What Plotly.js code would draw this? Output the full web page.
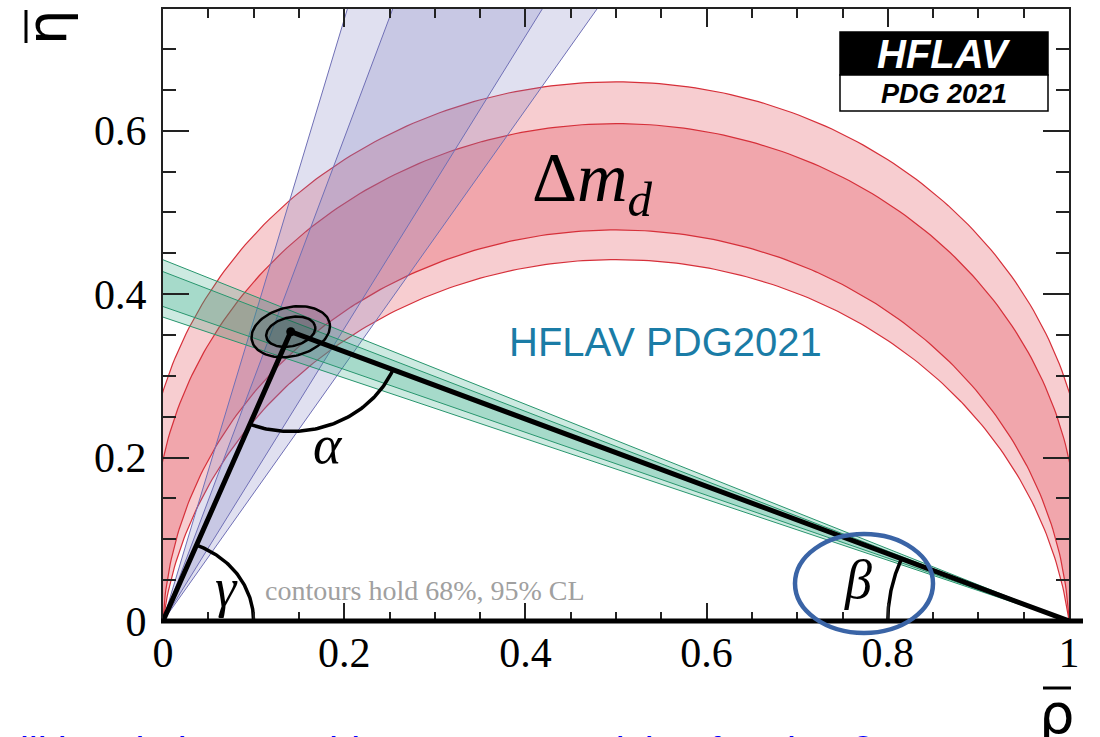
<!DOCTYPE html>
<html>
<head>
<meta charset="utf-8">
<script src="https://cdn.plot.ly/plotly-3.0.1.min.js"></script>
<style>html,body{margin:0;padding:0;background:#fff;overflow:hidden}#chart{width:1100px;height:737px}</style>
</head>
<body>
<div id="chart"></div>
<script>
// ---- data ----
const apexRho = 0.141;                       // rho-bar of the triangle apex
const apexEta = 0.354;                       // eta-bar of the triangle apex
const alphaBoundsDeg = [74.3, 78.8, 92.5, 97.0];   // 95% lo, 68% lo, 68% hi, 95% hi
const gammaBoundsDeg = [57.4, 60.8, 71.3, 74.8];
const betaBoundsDeg  = [20.4, 21.05, 23.15, 23.85];
const contour95 = [0.044, 0.030];            // semi-axes of the 95% CL ellipse
const contour68 = [0.0276, 0.0177];          // semi-axes of the 68% CL ellipse
const xTickVals = [0, 0.2, 0.4, 0.6, 0.8, 1];
const xTickText = ['0', '0.2', '0.4', '0.6', '0.8', '1'];
const yTickVals = [0, 0.2, 0.4, 0.6];
const yTickText = ['0', '0.2', '0.4', '0.6'];
const angleArcRadii = {gamma: 0.10, alpha: 0.122, beta: 0.20};

// ---- geometry helpers ----
const D = Math.PI / 180;
function alphaArc(aDeg, reverse) {
  // locus of points seeing (0,0)-(1,0) under angle alpha (circle through both)
  const a = aDeg * D, d = 0.5 / Math.tan(a), R = 0.5 / Math.abs(Math.sin(a));
  const t0 = Math.atan2(-d, 0.5), t1 = Math.PI - t0;
  const xs = [], ys = [];
  const N = 240;
  for (let i = 0; i <= N; i++) {
    const t = t0 + (t1 - t0) * i / N;
    xs.push(0.5 + R * Math.cos(t)); ys.push(d + R * Math.sin(t));
  }
  if (reverse) { xs.reverse(); ys.reverse(); }
  return [xs, ys];
}
function wedge(ox, oy, dirSign, a1, a2) {
  const L = 1.4;
  return [[ox, ox + dirSign * L * Math.cos(a1 * D), ox + dirSign * L * Math.cos(a2 * D), ox],
          [oy, oy + L * Math.sin(a1 * D), oy + L * Math.sin(a2 * D), oy]];
}
const PX = 906, PY = 817;   // pixels per unit on x and y
function ellipse(cx, cy, ab, tiltDeg) {
  const xs = [], ys = [], th = tiltDeg * D;
  const apx = ab[0] * PX, bpx = ab[1] * PY;
  for (let i = 0; i <= 120; i++) {
    const p = 2 * Math.PI * i / 120;
    const u = apx * Math.cos(p), v = bpx * Math.sin(p);
    const xr = u * Math.cos(th) - v * Math.sin(th), yr = u * Math.sin(th) + v * Math.cos(th);
    xs.push(cx + xr / PX); ys.push(cy + yr / PY);
  }
  return [xs, ys];
}
function angArc(cx, cy, r, a0, a1) {
  const xs = [], ys = [];
  for (let i = 0; i <= 80; i++) {
    const t = (a0 + (a1 - a0) * i / 80) * D;
    xs.push(cx + r * Math.cos(t)); ys.push(cy + r * Math.sin(t));
  }
  return [xs, ys];
}
function join(a, b) { return [a[0].concat(b[0]), a[1].concat(b[1])]; }

const redFill = 'rgba(220,40,50,0.23)', redLine = 'rgb(214,48,58)';
const blueFill = 'rgba(120,120,190,0.23)', blueLine = 'rgb(112,112,182)';
const greenFill = 'rgba(40,165,125,0.23)', greenLine = 'rgb(40,150,110)';

const traces = [];
function poly(pts, fill, line, lw) {
  traces.push({x: pts[0], y: pts[1], type: 'scatter', mode: 'lines', fill: 'toself',
    fillcolor: fill, line: {color: line, width: lw}, hoverinfo: 'skip'});
}
// alpha band (red)
poly(join(alphaArc(alphaBoundsDeg[0], false), alphaArc(alphaBoundsDeg[3], true)), redFill, redLine, 1.2);
poly(join(alphaArc(alphaBoundsDeg[1], false), alphaArc(alphaBoundsDeg[2], true)), redFill, redLine, 1.2);
// gamma band (blue)
poly(wedge(0, 0, 1, gammaBoundsDeg[3], gammaBoundsDeg[0]), blueFill, blueLine, 1);
poly(wedge(0, 0, 1, gammaBoundsDeg[2], gammaBoundsDeg[1]), blueFill, blueLine, 1);
// beta band (green)
poly(wedge(1, 0, -1, betaBoundsDeg[3], betaBoundsDeg[0]), greenFill, greenLine, 1);
poly(wedge(1, 0, -1, betaBoundsDeg[2], betaBoundsDeg[1]), greenFill, greenLine, 1);
// CL contours
poly(ellipse(apexRho, apexEta, contour95, 13), 'rgba(0,0,0,0.10)', '#000', 2.5);
poly(ellipse(apexRho, apexEta, contour68, 13), 'rgba(0,0,0,0.12)', '#000', 2.5);
// triangle
traces.push({x: [0, apexRho, 1], y: [0, apexEta, 0], type: 'scatter', mode: 'lines',
  line: {color: '#000', width: 5}, hoverinfo: 'skip'});
// angle arcs
const gAng = Math.atan2(apexEta, apexRho) / D;            // direction of left side
const bAng = Math.atan2(apexEta, apexRho - 1) / D;        // direction from (1,0) to apex
const arcs = [
  angArc(0, 0, angleArcRadii.gamma, 0, gAng),
  angArc(apexRho, apexEta, angleArcRadii.alpha, 180 + gAng, 360 + (bAng - 180)),
  angArc(1, 0, angleArcRadii.beta, bAng, 180)
];
arcs.forEach(a => traces.push({x: a[0], y: a[1], type: 'scatter', mode: 'lines',
  line: {color: '#000', width: 3.5}, hoverinfo: 'skip'}));
traces.push({x: [apexRho], y: [apexEta], type: 'scatter', mode: 'markers',
  marker: {color: '#000', size: 9}, hoverinfo: 'skip'});

// pixel -> paper helpers for decorations outside the data
const L0 = 163, T0 = 9, W = 906, H = 612;
const px = v => (v - L0) / W, py = v => (T0 + H - v) / H;

const serif = 'Liberation Serif, Times New Roman, serif';
const sans = 'Liberation Sans, Arial, sans-serif';

function ann(xp, yp, text, font, extra) {
  return Object.assign({x: px(xp), y: py(yp), xref: 'paper', yref: 'paper', text: text,
    showarrow: false, xanchor: 'center', yanchor: 'middle', font: font}, extra || {});
}

const layout = {
  width: 1100, height: 737,
  margin: {l: 163, r: 31, t: 9, b: 116, pad: 0},
  paper_bgcolor: '#fff', plot_bgcolor: '#fff',
  showlegend: false, hovermode: false,
  xaxis: {range: [0, 1], tickvals: xTickVals, ticktext: xTickText,
    ticks: 'inside', ticklen: 18, tickwidth: 2, tickcolor: '#222',
    minor: {dtick: 0.05, ticks: 'inside', ticklen: 9, tickwidth: 2, tickcolor: '#222'},
    mirror: 'allticks', showline: true, linewidth: 2, linecolor: '#222',
    showgrid: false, zeroline: false, ticklabelstandoff: -6,
    tickfont: {family: serif, size: 42, color: '#000'}},
  yaxis: {range: [0, 0.749], tickvals: yTickVals, ticktext: yTickText,
    ticks: 'inside', ticklen: 26, tickwidth: 2, tickcolor: '#222',
    minor: {dtick: 0.05, ticks: 'inside', ticklen: 13, tickwidth: 2, tickcolor: '#222'},
    mirror: 'allticks', showline: true, linewidth: 2, linecolor: '#222',
    showgrid: false, zeroline: false, ticklabelstandoff: 6,
    tickfont: {family: serif, size: 42, color: '#000'}},
  shapes: [
    {type: 'line', xref: 'paper', yref: 'paper', x0: px(161), x1: px(1083), y0: 0, y1: 0,
      line: {color: '#000', width: 5}},
    {type: 'rect', xref: 'paper', yref: 'paper', x0: px(840), x1: px(1048), y0: py(75), y1: py(32),
      fillcolor: '#000', line: {color: '#000', width: 1.5}},
    {type: 'rect', xref: 'paper', yref: 'paper', x0: px(840), x1: px(1048), y0: py(111), y1: py(75),
      fillcolor: '#fff', line: {color: '#000', width: 1.5}},
    {type: 'circle', xref: 'paper', yref: 'paper', x0: px(795), x1: px(933), y0: py(633), y1: py(534),
      line: {color: '#3a64a6', width: 4.5}},
    // bars over the axis symbols
    {type: 'line', xref: 'paper', yref: 'paper', x0: px(26), x1: px(26), y0: py(43), y1: py(10),
      line: {color: '#000', width: 3}},
    {type: 'line', xref: 'paper', yref: 'paper', x0: px(1043), x1: px(1071), y0: py(688), y1: py(688),
      line: {color: '#000', width: 3}}
  ],
  annotations: [
    ann(944, 54, '<b><i>HFLAV</i></b>', {family: sans, size: 40, color: '#fff'}),
    ann(944, 94, '<b><i>PDG 2021</i></b>', {family: sans, size: 27, color: '#000'}),
    ann(592, 183, 'Δ<i>m</i><sub><i>d</i></sub>', {family: serif, size: 70, color: '#000'}),
    ann(665, 342, 'HFLAV PDG2021', {family: sans, size: 40, color: '#1a7ca6'}),
    ann(263, 590, 'contours hold 68%, 95% CL', {family: serif, size: 28, color: '#a0a0a0'}, {xanchor: 'left'}),
    ann(328, 445, '<i>α</i>', {family: serif, size: 54, color: '#000'}),
    ann(226, 588, '<i>γ</i>', {family: serif, size: 54, color: '#000'}),
    ann(858, 580, '<i>β</i>', {family: serif, size: 54, color: '#000'}),
    ann(46, 27, 'η', {family: 'DejaVu Sans, sans-serif', size: 56, color: '#000'}, {textangle: -90}),
    ann(1057, 713, 'ρ', {family: 'DejaVu Sans, sans-serif', size: 56, color: '#000'}),
    ann(-12, 752, 'will be aiming to achieve 0.5% precision for sin 2β', {family: sans, size: 40, color: '#0000ff'}, {xanchor: 'left'})
  ]
};

Plotly.newPlot('chart', traces, layout, {staticPlot: true, displayModeBar: false});
</script>
</body>
</html>
